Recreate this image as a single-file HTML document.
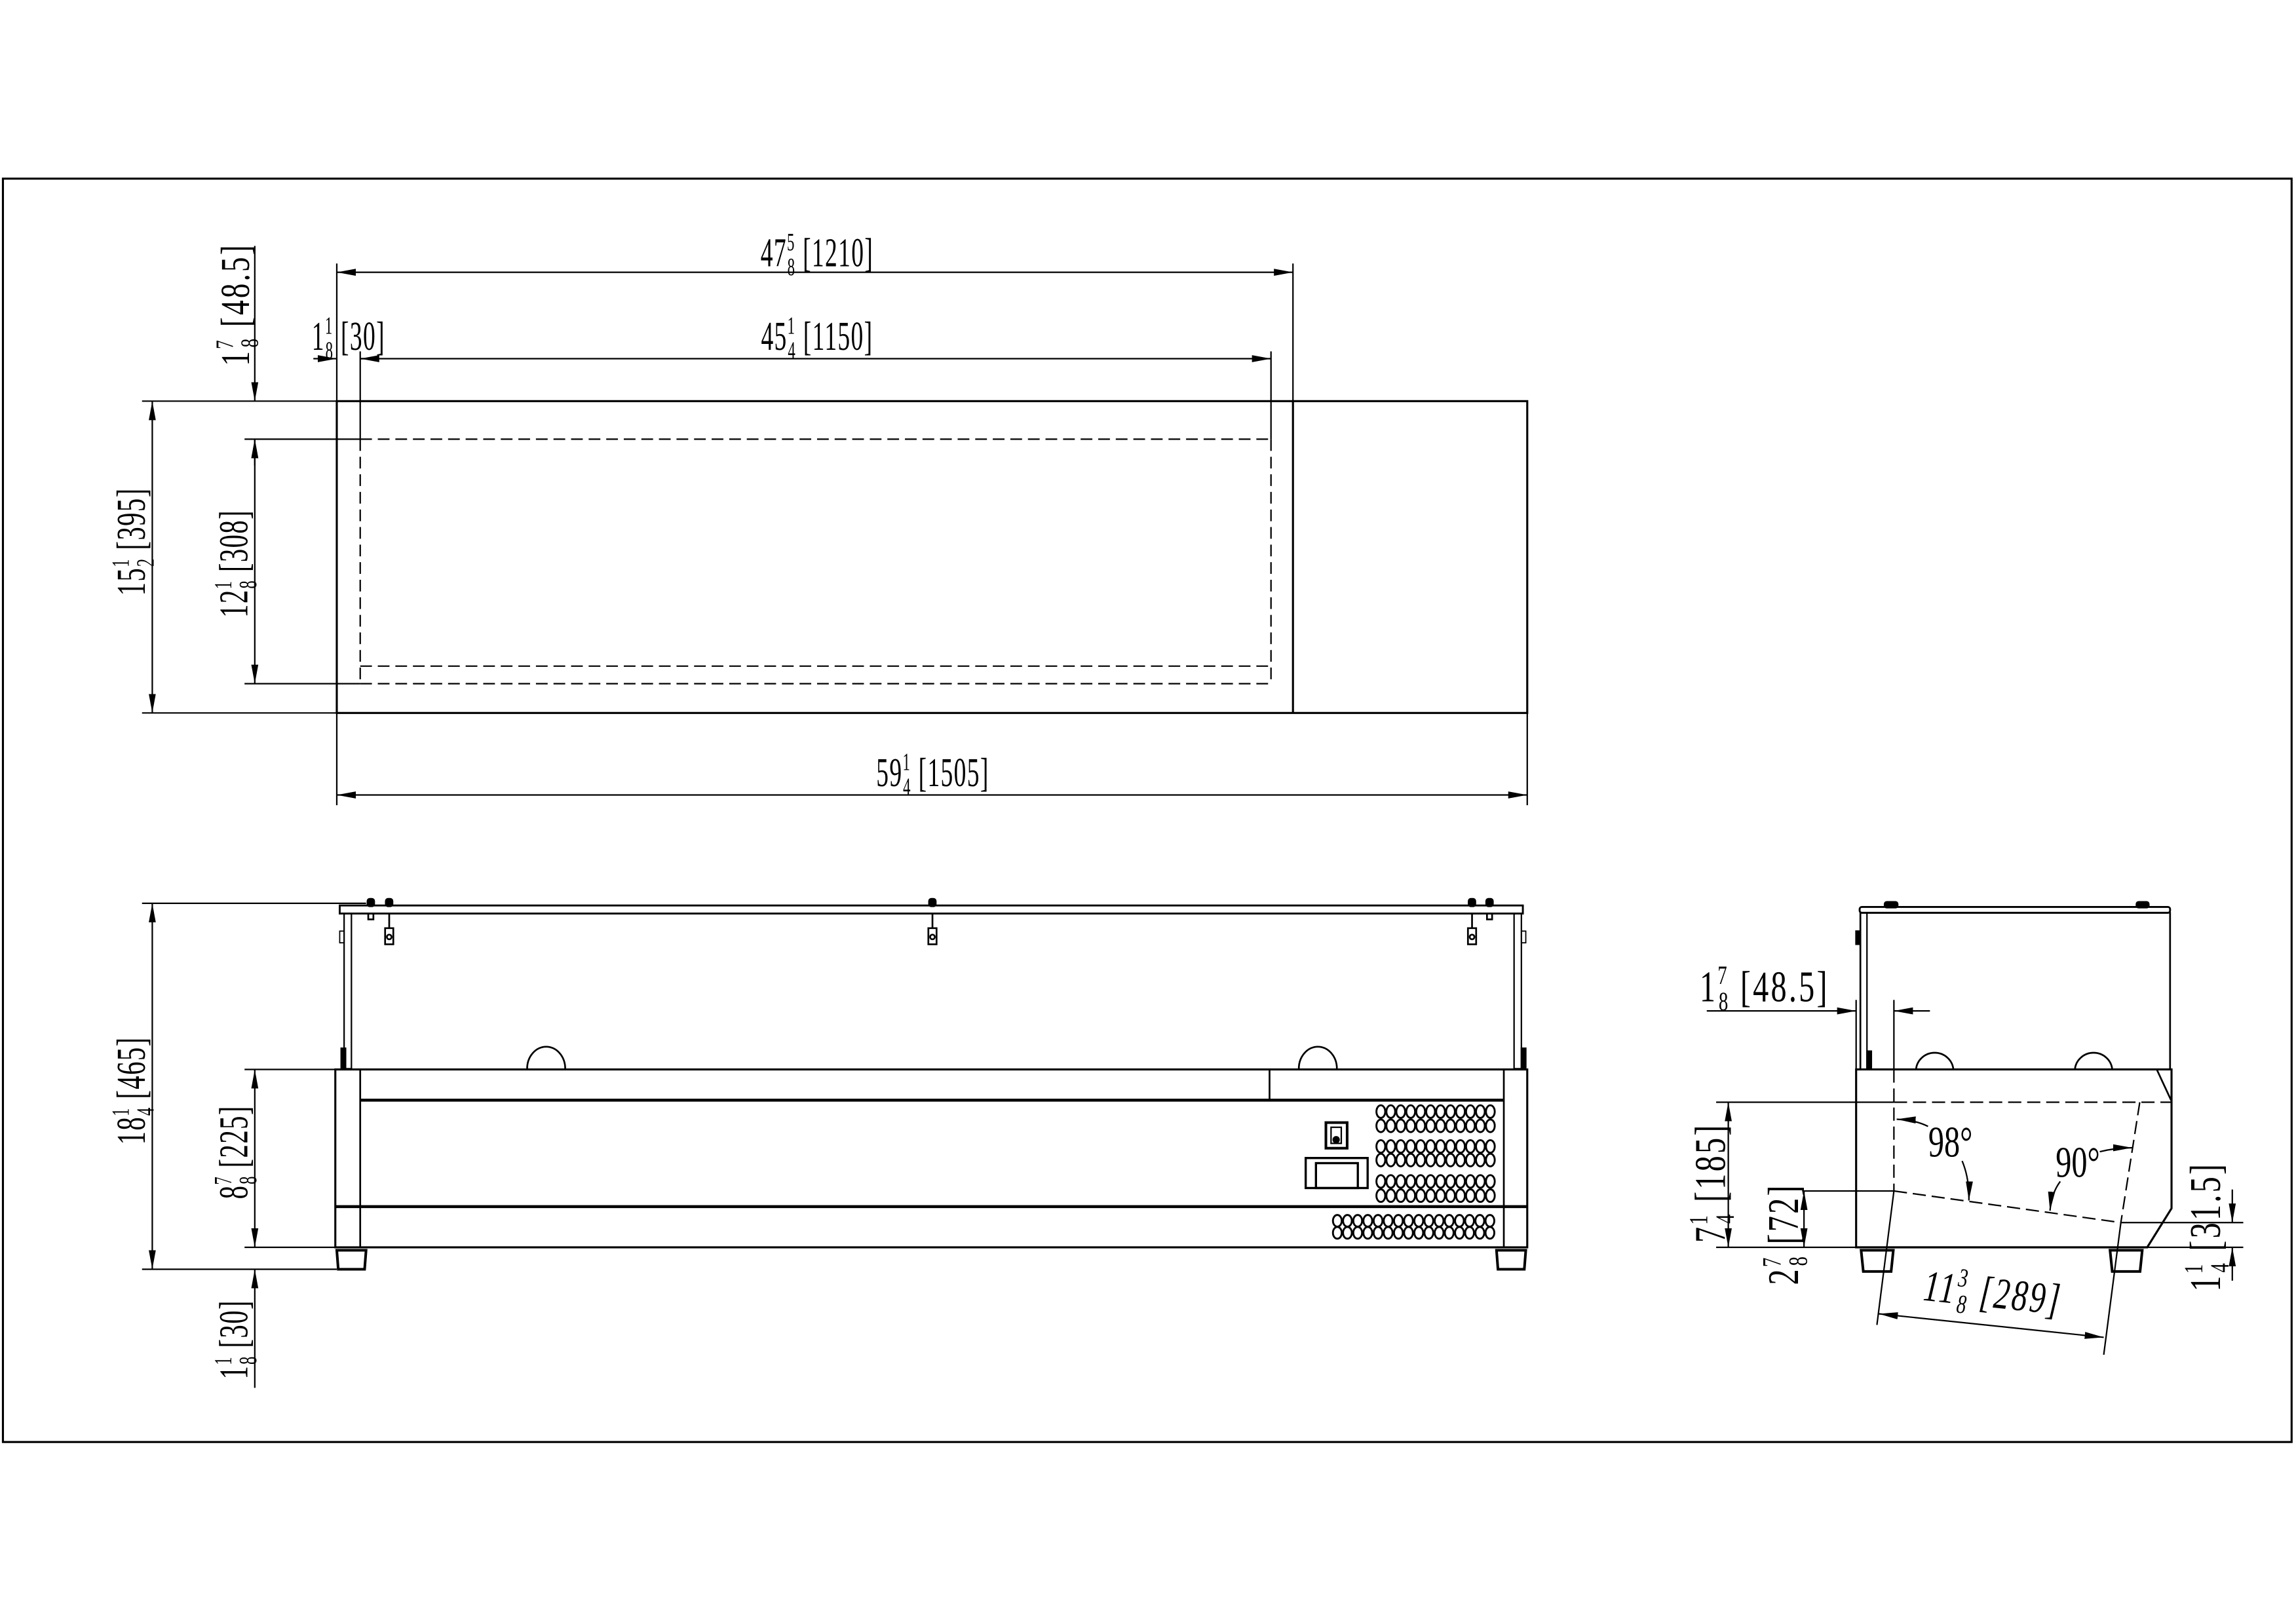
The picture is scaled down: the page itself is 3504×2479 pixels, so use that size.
<!DOCTYPE html>
<html><head><meta charset="utf-8"><style>
html,body{margin:0;padding:0;background:#fff;}
svg{display:block;}
text{font-family:"Liberation Serif",serif;fill:#000;}
</style></head><body>
<svg width="3504" height="2479" viewBox="0 0 1568 1109.3" preserveAspectRatio="none" xmlns="http://www.w3.org/2000/svg">
<defs>
<marker id="a" markerUnits="userSpaceOnUse" markerWidth="14" markerHeight="6" refX="13" refY="3" orient="auto-start-reverse"><path d="M0,0.6 L13,3 L0,5.4 z" fill="#000"/></marker>
<g id="vr">
<ellipse cx="943" cy="0" rx="3" ry="4.3"/><ellipse cx="949.8" cy="0" rx="3" ry="4.3"/><ellipse cx="956.6" cy="0" rx="3" ry="4.3"/><ellipse cx="963.4" cy="0" rx="3" ry="4.3"/><ellipse cx="970.2" cy="0" rx="3" ry="4.3"/><ellipse cx="977" cy="0" rx="3" ry="4.3"/><ellipse cx="983.8" cy="0" rx="3" ry="4.3"/><ellipse cx="990.6" cy="0" rx="3" ry="4.3"/><ellipse cx="997.4" cy="0" rx="3" ry="4.3"/><ellipse cx="1004.2" cy="0" rx="3" ry="4.3"/><ellipse cx="1011" cy="0" rx="3" ry="4.3"/><ellipse cx="1017.8" cy="0" rx="3" ry="4.3"/>
</g>
<g id="lr">
<ellipse cx="913.3" cy="0" rx="3" ry="4"/><ellipse cx="920.2" cy="0" rx="3" ry="4"/><ellipse cx="927.2" cy="0" rx="3" ry="4"/><ellipse cx="934.1" cy="0" rx="3" ry="4"/><ellipse cx="941.1" cy="0" rx="3" ry="4"/><ellipse cx="948" cy="0" rx="3" ry="4"/><ellipse cx="955" cy="0" rx="3" ry="4"/><ellipse cx="961.9" cy="0" rx="3" ry="4"/><ellipse cx="968.9" cy="0" rx="3" ry="4"/><ellipse cx="975.8" cy="0" rx="3" ry="4"/><ellipse cx="982.8" cy="0" rx="3" ry="4"/><ellipse cx="989.7" cy="0" rx="3" ry="4"/><ellipse cx="996.7" cy="0" rx="3" ry="4"/><ellipse cx="1003.6" cy="0" rx="3" ry="4"/><ellipse cx="1010.6" cy="0" rx="3" ry="4"/><ellipse cx="1017.5" cy="0" rx="3" ry="4"/>
</g>
</defs>
<rect width="1568" height="1109.3" fill="#fff"/>
<g fill="none" stroke="#000" stroke-width="1">
<path d="M2,122 H1565 V985 H2 Z" stroke-width="1.4"/>

<!-- TOP VIEW -->
<rect x="230" y="274" width="813" height="213" stroke-width="1.4"/>
<line x1="883" y1="274" x2="883" y2="487" stroke-width="1.4"/>
<g stroke-dasharray="8,4">
<line x1="246" y1="300" x2="868" y2="300"/>
<line x1="246" y1="455" x2="868" y2="455"/>
<line x1="246" y1="467" x2="868" y2="467"/>
<line x1="868" y1="300" x2="868" y2="467"/>
<line x1="246" y1="300" x2="246" y2="467"/>
</g>
<line x1="246" y1="240" x2="246" y2="300"/>
<line x1="868" y1="240" x2="868" y2="300"/>
<line x1="230" y1="180" x2="230" y2="274"/>
<line x1="883" y1="180" x2="883" y2="274"/>
<line x1="230" y1="186" x2="883" y2="186" marker-start="url(#a)" marker-end="url(#a)"/>
<line x1="246" y1="245" x2="868" y2="245" marker-end="url(#a)"/>
<line x1="246" y1="245" x2="258" y2="245" marker-start="url(#a)"/>
<line x1="214" y1="245" x2="230" y2="245" marker-end="url(#a)"/>
<line x1="97" y1="274" x2="230" y2="274"/>
<line x1="97" y1="487" x2="230" y2="487"/>
<line x1="104" y1="274" x2="104" y2="487" marker-start="url(#a)" marker-end="url(#a)"/>
<line x1="167" y1="300" x2="246" y2="300"/>
<line x1="167" y1="467" x2="246" y2="467"/>
<line x1="174" y1="300" x2="174" y2="467" marker-start="url(#a)" marker-end="url(#a)"/>
<line x1="174" y1="168" x2="174" y2="274" marker-end="url(#a)"/>
<line x1="174" y1="318" x2="174" y2="300" marker-end="url(#a)"/>
<line x1="230" y1="487" x2="230" y2="550"/>
<line x1="1043" y1="487" x2="1043" y2="550"/>
<line x1="230" y1="543" x2="1043" y2="543" marker-start="url(#a)" marker-end="url(#a)"/>

<!-- FRONT VIEW -->
<rect x="232" y="618.5" width="808" height="5.5" stroke-width="1.3"/>
<rect x="235" y="624" width="5" height="106" stroke-width="1"/>
<rect x="1034" y="624" width="5" height="106" stroke-width="1"/>
<rect x="233" y="716" width="3" height="14" fill="#000"/>
<rect x="1039" y="716" width="3" height="14" fill="#000"/>
<rect x="232" y="636" width="3" height="8" stroke-width="0.8"/>
<rect x="1039" y="636" width="3" height="8" stroke-width="0.8"/>
<g stroke-width="1.2">
<rect x="251" y="614" width="4.5" height="5" rx="1.5" fill="#000"/>
<rect x="263.5" y="614" width="4.5" height="5" rx="1.5" fill="#000"/>
<rect x="634.5" y="614" width="4.5" height="5" rx="1.5" fill="#000"/>
<rect x="1003" y="614" width="4.5" height="5" rx="1.5" fill="#000"/>
<rect x="1015" y="614" width="4.5" height="5" rx="1.5" fill="#000"/>
<rect x="251.5" y="624" width="3.5" height="4"/>
<rect x="1015.5" y="624" width="3.5" height="4"/>
<path d="M265.8,624 v10 M263,634 h5.6 v11 h-5.6 z"/><circle cx="265.8" cy="640" r="1.6"/>
<path d="M636.8,624 v10 M634,634 h5.6 v11 h-5.6 z"/><circle cx="636.8" cy="640" r="1.6"/>
<path d="M1005.3,624 v10 M1002.5,634 h5.6 v11 h-5.6 z"/><circle cx="1005.3" cy="640" r="1.6"/>
</g>
<path d="M360,730 A13,15 0 0 1 386,730" stroke-width="1.2"/>
<path d="M887,730 A13,15 0 0 1 913,730" stroke-width="1.2"/>
<rect x="229" y="730.5" width="814" height="121.5" stroke-width="1.4"/>
<line x1="246" y1="730.5" x2="246" y2="852" stroke-width="1.2"/>
<line x1="1027" y1="730.5" x2="1027" y2="852" stroke-width="1.2"/>
<line x1="246" y1="751.5" x2="1027" y2="751.5" stroke-width="2"/>
<line x1="229" y1="824.2" x2="1043" y2="824.2" stroke-width="2"/>
<line x1="867" y1="730.5" x2="867" y2="751.5" stroke-width="1.2"/>
<rect x="905.5" y="766.8" width="14.5" height="17.5" stroke-width="1.8"/>
<rect x="909" y="770" width="7" height="11" stroke-width="1"/>
<circle cx="912.5" cy="778.5" r="2" fill="#000"/>
<rect x="891.7" y="791" width="42.3" height="20.5" stroke-width="1.5"/>
<rect x="898.7" y="794.5" width="28.6" height="17" stroke-width="1.5"/>
<path d="M230,854 h20 l-1,13 h-18 z" stroke-width="1.8"/>
<path d="M1022,854 h20 l-1,13 h-18 z" stroke-width="1.8"/>
<line x1="97" y1="617" x2="250" y2="617"/>
<line x1="97" y1="867" x2="230" y2="867"/>
<line x1="104" y1="617" x2="104" y2="867" marker-start="url(#a)" marker-end="url(#a)"/>
<line x1="167" y1="730.5" x2="229" y2="730.5"/>
<line x1="167" y1="852" x2="229" y2="852"/>
<line x1="174" y1="730.5" x2="174" y2="852" marker-start="url(#a)" marker-end="url(#a)"/>
<line x1="174" y1="948" x2="174" y2="867" marker-end="url(#a)"/>

<!-- SIDE VIEW -->
<rect x="1270" y="619.5" width="212" height="4" rx="1.5" stroke-width="1.3"/>
<rect x="1287" y="616" width="9" height="4" rx="1.5" fill="#000"/>
<rect x="1459" y="616" width="8.5" height="4" rx="1.5" fill="#000"/>
<line x1="1270.5" y1="623" x2="1270.5" y2="730.5" stroke-width="1.2"/>
<line x1="1275" y1="623" x2="1275" y2="730.5" stroke-width="1"/>
<line x1="1482" y1="623" x2="1482" y2="730.5" stroke-width="1.2"/>
<rect x="1267.5" y="636" width="2.5" height="9" fill="#000"/>
<rect x="1275" y="718" width="3" height="12.5" fill="#000"/>
<path d="M1308.5,730.5 A12.8,12.5 0 0 1 1334,730.5" stroke-width="1.2"/>
<path d="M1417,730.5 A12.8,12.5 0 0 1 1442.5,730.5" stroke-width="1.2"/>
<path d="M1267.6,730.5 H1483 V825.4 L1466.4,852 H1267.6 Z" stroke-width="1.4"/>
<line x1="1472.9" y1="730.5" x2="1483" y2="752.2" stroke-width="1.2"/>
<path d="M1271,854 h22 l-1.5,14.5 h-19 z" stroke-width="1.8"/>
<path d="M1441,854 h22 l-1.5,14.5 h-19 z" stroke-width="1.8"/>
<g stroke-dasharray="9,4">
<line x1="1293.4" y1="730.5" x2="1293.4" y2="813.5"/>
<line x1="1293.4" y1="752.9" x2="1483" y2="752.9"/>
<line x1="1293.4" y1="813.5" x2="1448.4" y2="835.1"/>
<line x1="1461.3" y1="752.9" x2="1448.4" y2="835.1"/>
</g>
<line x1="1293.4" y1="683" x2="1293.4" y2="730.5"/>
<line x1="1172" y1="752.9" x2="1293.4" y2="752.9"/>
<line x1="1448.4" y1="835.1" x2="1436.7" y2="925.4"/>
<line x1="1293.4" y1="813.5" x2="1281.8" y2="905"/>
<line x1="1283.1" y1="897.4" x2="1436.7" y2="913.5" marker-start="url(#a)" marker-end="url(#a)"/>
<line x1="1231.5" y1="813.5" x2="1293.4" y2="813.5"/>
<line x1="1172" y1="852" x2="1267.6" y2="852"/>
<line x1="1232" y1="813.5" x2="1232" y2="852" marker-start="url(#a)" marker-end="url(#a)"/>
<line x1="1180.3" y1="752.9" x2="1180.3" y2="852" marker-start="url(#a)" marker-end="url(#a)"/>
<line x1="1448.4" y1="835.1" x2="1532" y2="835.1"/>
<line x1="1466.4" y1="852" x2="1532" y2="852"/>
<line x1="1524.5" y1="812.5" x2="1524.5" y2="835.1" marker-end="url(#a)"/>
<line x1="1524.5" y1="874.8" x2="1524.5" y2="852" marker-end="url(#a)"/>
<line x1="1267.6" y1="683" x2="1267.6" y2="730.5"/>
<line x1="1165.6" y1="690.5" x2="1267.6" y2="690.5" marker-end="url(#a)"/>
<line x1="1318" y1="690.5" x2="1293.4" y2="690.5" marker-end="url(#a)"/>
<path d="M1316.7,769.4 Q1308,765 1295.3,764.5" marker-end="url(#a)"/>
<path d="M1340,793 Q1345,805 1344.6,820" marker-end="url(#a)"/>
<path d="M1434,786.7 Q1445,784 1456.1,784" marker-end="url(#a)"/>
<path d="M1407,807 Q1401,815 1400,827" marker-end="url(#a)"/>
</g>

<g fill="none" stroke="#000" stroke-width="1.3">
<use href="#vr" y="759.3"/><use href="#vr" y="769"/><use href="#vr" y="783.1"/><use href="#vr" y="792.4"/><use href="#vr" y="807"/><use href="#vr" y="816.7"/>
<use href="#lr" y="833.9"/><use href="#lr" y="842.1"/>
</g>

<!-- TEXT -->
<g font-size="28">
<g transform="translate(558,182)"><text transform="scale(0.6,1)" text-anchor="middle" letter-spacing="1">47<tspan font-size="17" dy="-11">5</tspan><tspan font-size="17" dx="-9" dy="17">8</tspan><tspan dy="-6"> [1210]</tspan></text></g>
<g transform="translate(558,239)"><text transform="scale(0.6,1)" text-anchor="middle" letter-spacing="1">45<tspan font-size="17" dy="-11">1</tspan><tspan font-size="17" dx="-9" dy="17">4</tspan><tspan dy="-6"> [1150]</tspan></text></g>
<g transform="translate(238,239)"><text transform="scale(0.6,1)" text-anchor="middle" letter-spacing="1">1<tspan font-size="17" dy="-11">1</tspan><tspan font-size="17" dx="-9" dy="17">8</tspan><tspan dy="-6"> [30]</tspan></text></g>
<g transform="translate(637,537)"><text transform="scale(0.6,1)" text-anchor="middle" letter-spacing="1">59<tspan font-size="17" dy="-11">1</tspan><tspan font-size="17" dx="-9" dy="17">4</tspan><tspan dy="-6"> [1505]</tspan></text></g>
<g transform="translate(170,208) rotate(-90)"><text transform="scale(0.72,1)" text-anchor="middle" letter-spacing="2">1<tspan font-size="17" dy="-11">7</tspan><tspan font-size="17" dx="-9" dy="17">8</tspan><tspan dy="-6"> [48.5]</tspan></text></g>
<g transform="translate(99,370) rotate(-90)"><text transform="scale(0.65,1)" text-anchor="middle" letter-spacing="1">15<tspan font-size="17" dy="-11">1</tspan><tspan font-size="17" dx="-9" dy="17">2</tspan><tspan dy="-6"> [395]</tspan></text></g>
<g transform="translate(169,385) rotate(-90)"><text transform="scale(0.65,1)" text-anchor="middle" letter-spacing="1">12<tspan font-size="17" dy="-11">1</tspan><tspan font-size="17" dx="-9" dy="17">8</tspan><tspan dy="-6"> [308]</tspan></text></g>
<g transform="translate(99,745) rotate(-90)"><text transform="scale(0.65,1)" text-anchor="middle" letter-spacing="1">18<tspan font-size="17" dy="-11">1</tspan><tspan font-size="17" dx="-9" dy="17">4</tspan><tspan dy="-6"> [465]</tspan></text></g>
<g transform="translate(169,787) rotate(-90)"><text transform="scale(0.65,1)" text-anchor="middle" letter-spacing="1">8<tspan font-size="17" dy="-11">7</tspan><tspan font-size="17" dx="-9" dy="17">8</tspan><tspan dy="-6"> [225]</tspan></text></g>
<g transform="translate(169,915) rotate(-90)"><text transform="scale(0.65,1)" text-anchor="middle" letter-spacing="1">1<tspan font-size="17" dy="-11">1</tspan><tspan font-size="17" dx="-9" dy="17">8</tspan><tspan dy="-6"> [30]</tspan></text></g>
</g>
<g font-size="30">
<g transform="translate(1205,684)"><text transform="scale(0.72,1)" text-anchor="middle" letter-spacing="2">1<tspan font-size="18" dy="-12">7</tspan><tspan font-size="18" dx="-10" dy="18">8</tspan><tspan dy="-6"> [48.5]</tspan></text></g>
<g transform="translate(1178,808) rotate(-90)"><text transform="scale(0.72,1)" text-anchor="middle" letter-spacing="2">7<tspan font-size="18" dy="-12">1</tspan><tspan font-size="18" dx="-10" dy="18">4</tspan><tspan dy="-6"> [185]</tspan></text></g>
<g transform="translate(1228,843) rotate(-90)"><text transform="scale(0.72,1)" text-anchor="middle" letter-spacing="2">2<tspan font-size="18" dy="-12">7</tspan><tspan font-size="18" dx="-10" dy="18">8</tspan><tspan dy="-6"> [72]</tspan></text></g>
<g transform="translate(1516,838) rotate(-90)"><text transform="scale(0.72,1)" text-anchor="middle" letter-spacing="2">1<tspan font-size="18" dy="-12">1</tspan><tspan font-size="18" dx="-10" dy="18">4</tspan><tspan dy="-6"> [31.5]</tspan></text></g>
<g transform="translate(1360,893) rotate(6)"><text transform="scale(0.72,1)" text-anchor="middle" font-style="italic" letter-spacing="2">11<tspan font-size="18" dy="-12">3</tspan><tspan font-size="18" dx="-10" dy="18">8</tspan><tspan dy="-6"> [289]</tspan></text></g>
<g transform="translate(1332,790)"><text transform="scale(0.72,1)" text-anchor="middle">98°</text></g>
<g transform="translate(1419,804)"><text transform="scale(0.72,1)" text-anchor="middle">90°</text></g>
</g>
</svg>
</body></html>
